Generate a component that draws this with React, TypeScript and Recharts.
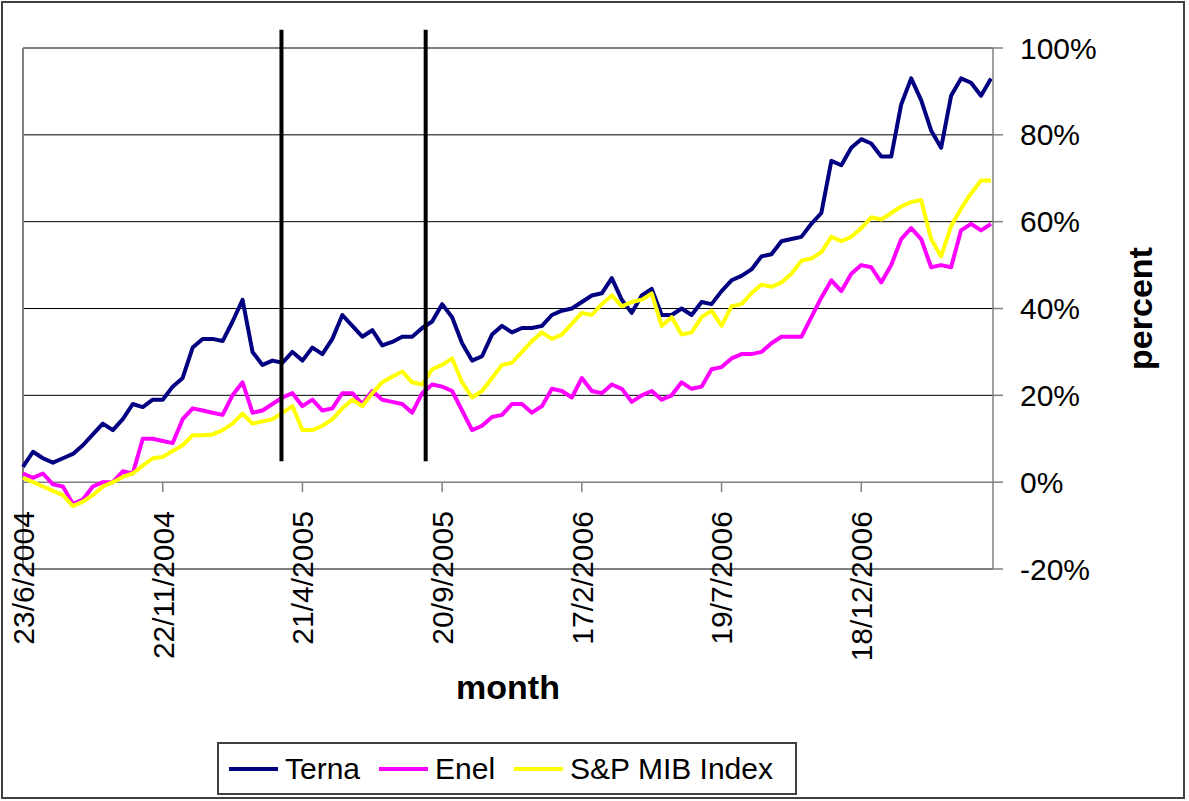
import { LineChart, Line, XAxis, YAxis, CartesianGrid, ReferenceLine } from 'recharts';

// x-axis: one step = ~1/14 of the spacing between date ticks (trading-day category axis)
const TICK_LABELS = ['23/6/2004', '22/11/2004', '21/4/2005', '20/9/2005', '17/2/2006', '19/7/2006', '18/12/2006'];
const STEPS_PER_TICK = 14;
const LAST_STEP = 97.2;

const Y_TICKS = [-20, 0, 20, 40, 60, 80, 100];
const Y_MIN = -20;
const Y_MAX = 100;

// cumulative return, percent
const TERNA = [
  3.5, 7, 5.5, 4.5, 5.5, 6.5, 8.5, 11, 13.5, 12,
  14.5, 18, 17.3, 19, 19, 22, 24, 31, 33, 33,
  32.5, 37, 42, 30, 27, 28, 27.5, 30, 28, 31,
  29.5, 33, 38.5, 36, 33.5, 35, 31.5, 32.3, 33.5, 33.5,
  35.5, 37, 41, 38, 32, 28, 29, 34, 36, 34.5,
  35.5, 35.5, 36, 38.5, 39.5, 40, 41.5, 43, 43.5, 47,
  42, 39, 43, 44.5, 38.5, 38.5, 40, 38.5, 41.5, 41,
  44, 46.5, 47.5, 49, 52, 52.5, 55.5, 56, 56.5, 59.5,
  62, 74, 73, 77, 79, 78, 75, 75, 87, 93,
  88, 81, 77, 89, 93, 92, 89, 93,
];
const ENEL = [
  2, 1, 2, -0.5, -1, -5, -4, -1, 0, 0,
  2.5, 2, 10, 10, 9.5, 9, 14.5, 17, 16.5, 16,
  15.5, 20, 23, 16, 16.5, 18, 19.5, 20.5, 17.5, 19,
  16.5, 17, 20.5, 20.5, 18, 21, 19, 18.5, 18, 16,
  20.5, 22.5, 22, 21, 16.5, 12, 13, 15, 15.5, 18,
  18, 16, 17.5, 21.5, 21, 19.5, 24, 21, 20.5, 22.5,
  21.5, 18.5, 20, 21, 19, 20, 23, 21.5, 22, 26,
  26.5, 28.5, 29.5, 29.5, 30, 32, 33.5, 33.5, 33.5, 38,
  42.5, 46.5, 44, 48, 50, 49.5, 46, 50, 56, 58.5,
  56, 49.5, 50, 49.5, 58, 59.5, 58, 59.5,
];
const MIB = [
  1, 0, -1, -2, -3, -5.5, -4.5, -3, -1, 0,
  1.2, 2, 3.8, 5.5, 5.8, 7.2, 8.5, 10.8, 10.8, 11,
  12, 13.5, 15.8, 13.5, 14, 14.5, 16, 17.5, 12, 12,
  13, 14.5, 17, 19, 17.5, 20.5, 23, 24.3, 25.5, 23,
  22.5, 26, 27, 28.5, 23, 19.5, 21, 24, 27, 27.5,
  30, 32.5, 34.5, 33, 34, 36.5, 39, 38.5, 41, 43,
  40.5, 41.5, 42, 43.5, 36, 38, 34, 34.5, 38, 39.5,
  36, 40.5, 41, 43.5, 45.5, 45, 46, 48, 51, 51.5,
  53, 56.5, 55.5, 56.5, 58.5, 61, 60.5, 62, 63.5, 64.5,
  65, 56, 52, 59, 63, 66.5, 69.5, 69.5,
];

// the two black vertical markers (step position, from/to percent)
const EVENT_STEPS = [25.9, 40.35];
const EVENT_TOP = 104.2;
const EVENT_BOTTOM = 4.8;

const SERIES = [
  { key: 'terna', name: 'Terna', color: '#000080' },
  { key: 'enel', name: 'Enel', color: '#FF00FF' },
  { key: 'mib', name: 'S&P MIB Index', color: '#FFFF00' },
];

const data = TERNA.map((v, i) => ({ i, terna: v, enel: ENEL[i], mib: MIB[i] }));
const xTicks = TICK_LABELS.map((_, k) => k * STEPS_PER_TICK);

const FONT = '"Liberation Sans", Arial, sans-serif';
const W = 1189;
const H = 801;
const MARGIN = { top: 48, right: 0, bottom: 97, left: 23 };
const X_AXIS_HEIGHT = 135;
const PLOT_H = H - MARGIN.top - MARGIN.bottom - X_AXIS_HEIGHT;
// distance from the plot bottom (-20%) up to the 0% line, where the category axis sits
const ZERO_UP = (PLOT_H * (0 - Y_MIN)) / (Y_MAX - Y_MIN);
const AXIS_GRAY = '#808080';

const DateTick = ({ x, y, payload }: any) => {
  const label = TICK_LABELS[Math.round(payload.value / STEPS_PER_TICK)];
  const y0 = y - ZERO_UP;
  return (
    <g>
      <line x1={x} x2={x} y1={y0} y2={y0 + 10} stroke={AXIS_GRAY} strokeWidth={1.5} />
      <text
        transform={`translate(${x},${y0 + 29}) rotate(-90)`}
        textAnchor="end"
        dy="0.36em"
        fontSize={30}
        fontFamily={FONT}
        fill="#000"
      >
        {label}
      </text>
    </g>
  );
};

export default function App() {
  return (
    <div style={{ position: 'absolute', left: 0, top: 0, width: W, height: H, background: '#fff', fontFamily: FONT }}>
      <div
        style={{
          position: 'absolute',
          left: 1,
          top: 1,
          width: 1184,
          height: 798,
          boxSizing: 'border-box',
          border: '2px solid #404040',
        }}
      />
      <LineChart width={W} height={H} data={data} margin={MARGIN} style={{ fontFamily: FONT }}>
        <CartesianGrid vertical={false} horizontalValues={[20, 40, 60, 80]} stroke="#000" strokeWidth={1} />
        <XAxis
          dataKey="i"
          type="number"
          domain={[0, LAST_STEP]}
          ticks={xTicks}
          height={X_AXIS_HEIGHT}
          axisLine={false}
          tickLine={false}
          tickSize={0}
          tickMargin={0}
          tick={<DateTick />}
          interval={0}
          label={{
            value: 'month',
            position: 'insideBottom',
            offset: 5,
            fontSize: 34,
            fontWeight: 'bold',
            fill: '#000',
            fontFamily: FONT,
          }}
        />
        <YAxis
          orientation="right"
          width={196}
          domain={[Y_MIN, Y_MAX]}
          ticks={Y_TICKS}
          interval={0}
          tickFormatter={(v) => `${v}%`}
          tick={{ fontSize: 30, fill: '#000', fontFamily: FONT }}
          axisLine={{ stroke: AXIS_GRAY, strokeWidth: 1.5 }}
          tickLine={{ stroke: AXIS_GRAY, strokeWidth: 1.5 }}
          tickSize={10}
          tickMargin={17}
          label={{
            value: 'percent',
            angle: -90,
            position: 'center',
            dx: 49,
            fontSize: 34,
            fontWeight: 'bold',
            fill: '#000',
            fontFamily: FONT,
          }}
        />
        <ReferenceLine y={Y_MAX} stroke={AXIS_GRAY} strokeWidth={2} />
        <ReferenceLine y={Y_MIN} stroke={AXIS_GRAY} strokeWidth={2} />
        <ReferenceLine x={0} stroke={AXIS_GRAY} strokeWidth={2} />
        <ReferenceLine y={0} stroke={AXIS_GRAY} strokeWidth={1.5} />
        {SERIES.map((s) => (
          <Line
            key={s.key}
            type="linear"
            dataKey={s.key}
            name={s.name}
            stroke={s.color}
            strokeWidth={4}
            strokeLinejoin="round"
            dot={false}
            isAnimationActive={false}
          />
        ))}
        {EVENT_STEPS.map((xv) => (
          <ReferenceLine
            key={xv}
            segment={[
              { x: xv, y: EVENT_BOTTOM },
              { x: xv, y: EVENT_TOP },
            ]}
            stroke="#000"
            strokeWidth={4}
            ifOverflow="visible"
          />
        ))}
      </LineChart>
      <div
        style={{
          position: 'absolute',
          left: 217,
          top: 742,
          width: 580,
          height: 53,
          boxSizing: 'border-box',
          border: '2px solid #404040',
          display: 'flex',
          alignItems: 'center',
          paddingLeft: 10,
          fontSize: 30,
          color: '#000',
          whiteSpace: 'nowrap',
        }}
      >
        {SERIES.map((s) => (
          <div key={s.key} style={{ display: 'flex', alignItems: 'center', marginRight: 19 }}>
            <span style={{ display: 'inline-block', width: 49, height: 4, background: s.color, marginRight: 7 }} />
            <span>{s.name}</span>
          </div>
        ))}
      </div>
    </div>
  );
}
